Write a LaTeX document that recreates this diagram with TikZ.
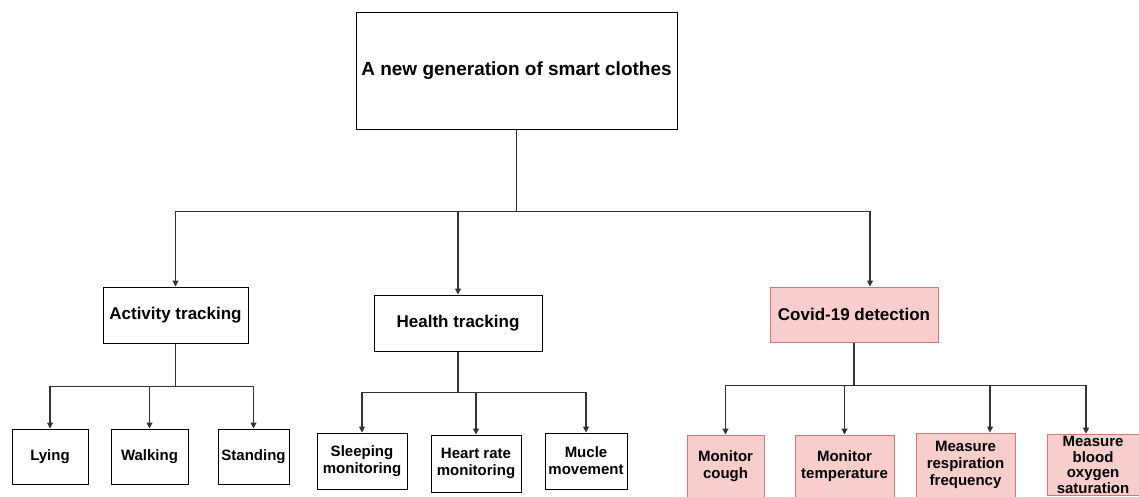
\documentclass[tikz,border=0pt]{standalone}
\usepackage{fontspec}
\setmainfont{Liberation Sans}
\usetikzlibrary{arrows.meta,calc}
\definecolor{covidFill}{RGB}{248,206,204}
\definecolor{covidLine}{RGB}{210,120,118}
\definecolor{lineGray}{RGB}{51,51,51}
\tikzset{
  root/.style={draw=black, line width=1pt, fill=white, align=center, inner sep=2pt, font=\bfseries\fontsize{19}{21}\selectfont},
  branch/.style={draw=black, line width=1pt, fill=white, align=center, inner sep=2pt, font=\bfseries\fontsize{17}{19}\selectfont},
  covid/.style={branch, draw=covidLine, fill=covidFill},
  leaf/.style={draw=black, line width=1pt, fill=white, align=center, inner sep=2pt, font=\bfseries\fontsize{15}{17}\selectfont},
  cleaf/.style={leaf, draw=covidLine, fill=covidFill},
  link/.style={draw=lineGray, line width=1.1pt},
  arrow/.style={link, -{Triangle[length=6pt,width=6pt]}}
}

\begin{document}
\begin{tikzpicture}[x=1pt,y=1pt]
  \useasboundingbox (0,0) rectangle (1139,-496);
  \clip (0,0) rectangle (1139,-496);

  \node[root, minimum width=321pt, minimum height=117pt] (clothes) at (516.5,-70.5) {A new generation of smart clothes};

  \node[branch, minimum width=145pt, minimum height=56pt] (activity) at (175.5,-315) {Activity tracking};
  \node[branch, minimum width=168pt, minimum height=56pt] (health) at (458,-323) {Health tracking};
  \node[covid, minimum width=168pt, minimum height=55pt] (covid) at (854,-314.5) {Covid-19 detection};

  \node[leaf, minimum width=76pt, minimum height=55pt] (lying) at (50,-456.5) {Lying};
  \node[leaf, minimum width=77pt, minimum height=55pt] (walking) at (149.5,-456.5) {Walking};
  \node[leaf, minimum width=71pt, minimum height=55pt] (standing) at (253.5,-456.5) {Standing};

  \node[leaf, minimum width=90pt, minimum height=56pt] (sleep) at (362,-461) {Sleeping\\monitoring};
  \node[leaf, minimum width=90pt, minimum height=57pt] (heart) at (476,-463.5) {Heart rate\\monitoring};
  \node[leaf, minimum width=82pt, minimum height=56pt] (muscle) at (586,-461) {Mucle\\movement};

  \node[cleaf, minimum width=77pt, minimum height=63pt] (cough) at (725.5,-466.5) {Monitor\\cough};
  \node[cleaf, minimum width=99pt, minimum height=63pt] (temp) at (844.5,-466.5) {Monitor\\temperature};
  \node[cleaf, minimum width=99pt, minimum height=64pt] (resp) at (965.5,-465) {Measure\\respiration\\frequency};
  \node[cleaf, minimum width=92pt, minimum height=60pt, font=\bfseries\fontsize{15}{15.7}\selectfont] (oxygen) at (1093,-465) {Measure\\blood\\oxygen\\saturation};

  % top level
  \draw[link] (clothes.south) -- ++(0,-82) coordinate (busTop);
  \draw[arrow] (busTop) -| (activity.north);
  \draw[arrow] (busTop) -| (health.north);
  \draw[arrow] (busTop) -| ([xshift=16pt]covid.north);

  % activity
  \draw[link] (activity.south) -- ++(0,-43) coordinate (busAct);
  \draw[arrow] (busAct) -| (lying.north);
  \draw[arrow] (busAct) -| (walking.north);
  \draw[arrow] (busAct) -| (standing.north);

  % health
  \draw[link] (health.south) -- ++(0,-41) coordinate (busHealth);
  \draw[arrow] (busHealth) -| (sleep.north);
  \draw[arrow] (busHealth) -| (heart.north);
  \draw[arrow] (busHealth) -| (muscle.north);

  % covid
  \draw[link] (covid.south) -- ++(0,-43) coordinate (busCovid);
  \draw[arrow] (busCovid) -| (cough.north);
  \draw[arrow] (busCovid) -| (temp.north);
  \draw[arrow] (busCovid) -| ([xshift=24.5pt]resp.north);
  \draw[arrow] (busCovid) -| ([xshift=-7pt]oxygen.north);
\end{tikzpicture}
\end{document}
